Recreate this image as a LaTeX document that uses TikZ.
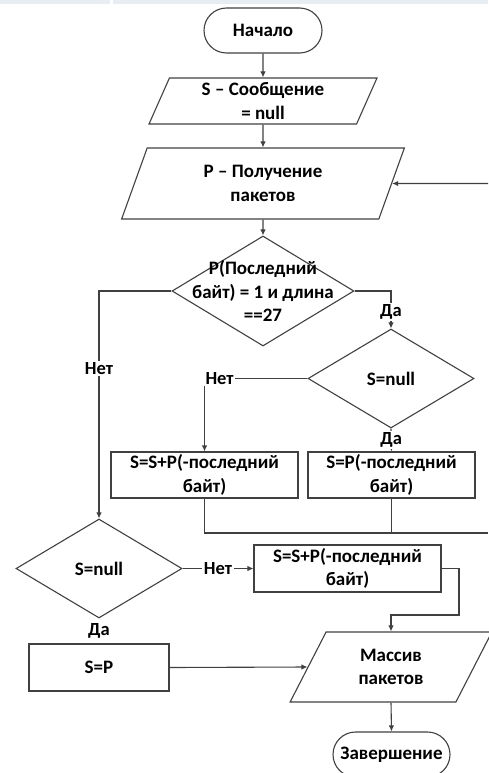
\documentclass[tikz,border=0pt]{standalone}
\usepackage{fontspec}
\setmainfont{Carlito}
\usetikzlibrary{shapes.geometric,arrows.meta}
\definecolor{linegray}{HTML}{404040}
\definecolor{bandblue}{HTML}{E8EDF4}
\begin{document}
\begin{tikzpicture}[x=1pt,y=-1pt,
  every node/.style={font=\bfseries\fontsize{19}{23.5}\selectfont, text=black, align=center},
  flow/.style={draw=linegray, line width=1.1pt},
  arr/.style={flow, -{Latex[length=6pt,width=5.5pt]}},
  term/.style={flow, rectangle, rounded corners=22.5pt, minimum height=45pt, inner sep=0pt},
  io/.style={flow, trapezium, trapezium stretches=true, trapezium left angle=70,
    trapezium right angle=110, inner sep=0pt},
  proc/.style={flow, rectangle, minimum height=46pt, inner sep=0pt},
  decision/.style={flow, diamond, inner sep=0pt},
  dtext/.style={inner sep=0pt},
  lbl/.style={fill=white, inner sep=1.5pt, font=\bfseries\fontsize{18.5}{20}\selectfont}
]
\useasboundingbox (0,0) rectangle (488,773);
% header strip
\fill[bandblue] (0,0) rectangle (110,4);
\fill[bandblue] (113,0) rectangle (488,4);

% blocks
\node[term, minimum width=118pt] (start) at (263,30.5) {Начало};
\node[io, minimum width=228pt, minimum height=46pt] (s0) at (263,101) {S – Сообщение\\= null};
\node[io, minimum width=283pt, minimum height=71pt] (recv) at (263,183.5) {P – Получение\\пакетов};
\node[decision, minimum width=182pt, minimum height=110pt] (last) at (263,291) {};
\node[dtext] (lastt) at (last) {P(Последний\\байт) = 1 и длина\\==27};
\node[decision, minimum width=166pt, minimum height=99pt] (empty1) at (391,378.5) {};
\node[dtext] (empty1t) at (empty1) {S=null};
\node[proc, minimum width=187pt] (append1) at (204.5,475) {S=S+P(-последний\\байт)};
\node[proc, minimum width=167pt] (assign1) at (391.5,475) {S=P(-последний\\байт)};
\node[decision, minimum width=166pt, minimum height=99pt] (empty2) at (99,568.5) {};
\node[dtext] (empty2t) at (empty2) {S=null};
\node[proc, minimum width=187pt, minimum height=47pt] (append2) at (347.5,568.5) {S=S+P(-последний\\байт)};
\node[proc, minimum width=140pt, minimum height=47pt] (assign2) at (99,667.5) {S=P};
\node[io, trapezium left angle=63.4, trapezium right angle=116.6,
  minimum width=202pt, minimum height=70pt] (out) at (391,667) {Массив\\пакетов};
\node[term, minimum width=117pt] (finish) at (391.5,754.5) {Завершение};

% connectors
\coordinate (loopin) at (488,183.5);
\coordinate (merge) at (488,533);
\coordinate (bend) at (459,615);

\draw[arr] (start.south) -- (s0.north);
\draw[arr] (s0.south) -- (recv.north);
\draw[arr] (loopin) -- (recv.east);
\draw[arr] (recv.south) -- (last.north);
\draw[arr] (last.west) -| node[lbl, pos=0.67] (no1) {Нет} (empty2.north);
\draw[arr] (last.east) -| node[lbl, pos=0.775] (yes1) {Да} (empty1.north);
\draw[arr] (empty1.west) -| node[lbl, pos=0.5, anchor=west, xshift=-1pt] (no2) {Нет} (append1.north);
\draw[arr] (empty1.south) -- node[lbl] (yes2) {Да} (assign1.north);
\draw[flow] (append1.south) |- (merge);
\draw[flow] (assign1.south) -- (assign1.south |- merge);
\draw[arr] (empty2.east) -- node[lbl] (no3) {Нет} (append2.west);
\node[lbl] (yes3) at (99,631) {Да};
\draw[arr] (append2.east) -| (bend) -| (out.north);
\draw[arr] (assign2.east) -- (out.west);
\draw[arr] (out.south) -- (finish.north);
\end{tikzpicture}
\end{document}
